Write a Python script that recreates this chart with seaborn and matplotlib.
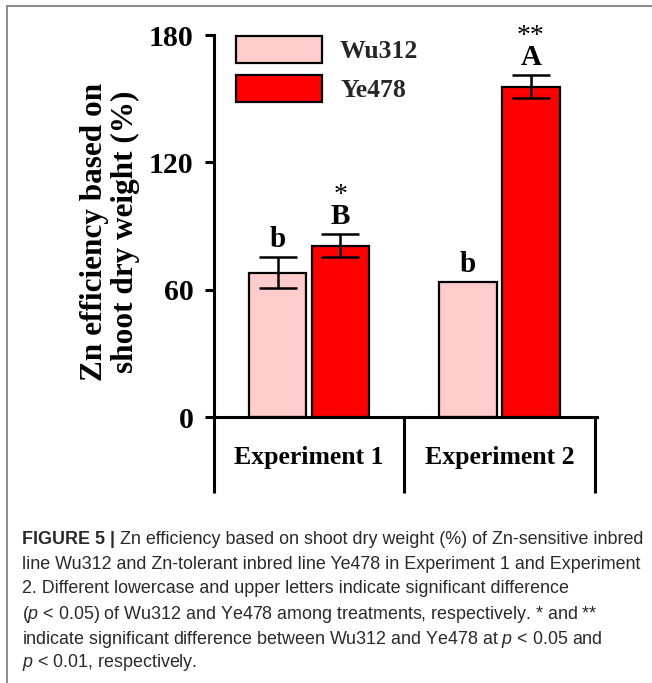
import matplotlib
matplotlib.use("Agg")
import matplotlib.pyplot as plt
import seaborn as sns
import pandas as pd
from matplotlib.patches import Patch
from matplotlib.lines import Line2D

# ---------------- data ----------------
experiments = ["Experiment 1", "Experiment 2"]
lines = ["Wu312", "Ye478"]
wu312_values = [68.0, 63.5]
ye478_values = [80.7, 155.6]
wu312_err = [7.3, 0.0]
ye478_err = [5.5, 5.5]
wu312_letters = ["b", "b"]
ye478_letters = ["B", "A"]
ye478_stars = ["*", "**"]
yticks = [0, 60, 120, 180]
colors = ["#FFCCCC", "#FF0000"]
ylabel = "Zn efficiency based on\nshoot dry weight (%)"

W, H = 652, 683
sns.set_theme(style="white")
plt.rcParams["font.family"] = ["Liberation Serif", "DejaVu Serif"]
plt.rcParams["mathtext.fontset"] = "custom"
plt.rcParams["mathtext.rm"] = "Liberation Sans"
plt.rcParams["mathtext.it"] = "Liberation Sans:italic"
plt.rcParams["mathtext.bf"] = "Liberation Sans:bold"

fig = plt.figure(figsize=(W / 100, H / 100), dpi=100)
fig.patch.set_facecolor("white")

def px(x, y):
    return (x / W, 1 - y / H)

ax_left, ax_right, ax_top, ax_bot = 213.75, 597, 35, 417
ax = fig.add_axes([ax_left / W, 1 - ax_bot / H, (ax_right - ax_left) / W, (ax_bot - ax_top) / H])
ax.set_facecolor("white")

df = pd.DataFrame({
    "Experiment": experiments * 2,
    "Line": [lines[0]] * len(experiments) + [lines[1]] * len(experiments),
    "Value": wu312_values + ye478_values,
})
sns.barplot(data=df, x="Experiment", y="Value", hue="Line", order=experiments,
            hue_order=lines, palette=colors, saturation=1, width=0.66, gap=0.08,
            edgecolor="black", linewidth=1.6, errorbar=None, legend=False, ax=ax)

ax.set_xlim(-0.5, 1.512)
ax.set_ylim(0, 180)
ax.set_yticks(yticks)
ax.set_yticklabels([str(v) for v in yticks])
ax.set_xlabel("")
ax.set_ylabel("")

for s in ["top", "right"]:
    ax.spines[s].set_visible(False)
for s in ["left", "bottom"]:
    ax.spines[s].set_linewidth(2.2)
    ax.spines[s].set_color("black")

ax.tick_params(axis="y", direction="out", length=6.5, width=2.2, pad=8,
               labelsize=21.5, colors="black", left=True)
ax.tick_params(axis="x", length=0, pad=21, labelsize=18.5, colors="black")
for lab in ax.get_yticklabels() + ax.get_xticklabels():
    lab.set_fontweight("bold")

# separators of the category box
xt = ax.get_xaxis_transform()
for xb in [-0.5, 0.5, 1.5]:
    ax.plot([xb, xb], [0, -0.199], transform=xt, color="black", lw=2.2,
            clip_on=False, solid_capstyle="butt")

# error bars & letters
bars = sorted(ax.patches, key=lambda p: p.get_x())
vals = [wu312_values[0], ye478_values[0], wu312_values[1], ye478_values[1]]
errs = [wu312_err[0], ye478_err[0], wu312_err[1], ye478_err[1]]
letters = [wu312_letters[0], ye478_letters[0], wu312_letters[1], ye478_letters[1]]
stars = ["", ye478_stars[0], "", ye478_stars[1]]
for b, v, e, l, st in zip(bars, vals, errs, letters, stars):
    xc = b.get_x() + b.get_width() / 2
    if e > 0:
        ax.errorbar([xc], [v], yerr=[e], fmt="none", ecolor="black",
                    elinewidth=1.8, capsize=14, capthick=1.8, zorder=5, clip_on=False)
    base = v + e + 4.8
    ax.text(xc, base, l, ha="center", va="baseline", fontsize=21,
            fontweight="bold", color="black", clip_on=False)
    if st:
        ax.text(xc, base + 10.3, st, ha="center", va="baseline", fontsize=20,
                color="black", clip_on=False)

# legend
handles = [Patch(facecolor=c, edgecolor="black", linewidth=1.6) for c in colors]
leg = ax.legend(handles, lines, loc="upper left", bbox_to_anchor=px(236, 36),
                bbox_transform=fig.transFigure, frameon=False, borderpad=0,
                borderaxespad=0, handlelength=3.35, handleheight=1.25,
                labelspacing=0.45, handletextpad=0.7,
                prop={"family": "Liberation Serif", "weight": "bold", "size": 18.5})

# y label
fig.text(110 / W, 1 - 232 / H, ylabel, rotation=90, ha="center", va="center",
         fontsize=22.5, fontweight="bold", multialignment="center",
         linespacing=1.05, color="black")

# frame lines
fig.add_artist(Line2D([7 / W, 1], [1 - 6 / H, 1 - 6 / H], transform=fig.transFigure,
                      color="#777777", lw=1.2))
fig.add_artist(Line2D([7 / W, 7 / W], [0, 1 - 6 / H], transform=fig.transFigure,
                      color="#777777", lw=1.2))

# caption
cap_kw = dict(fontsize=12.9, family="Liberation Sans", color="#2a2a2a")
x0 = 22
t1 = fig.text(x0 / W, 1 - 544 / H, "FIGURE 5 |", fontweight="bold", va="baseline", **cap_kw)
ax.annotate(" Zn efficiency based on shoot dry weight (%) of Zn-sensitive inbred",
            xy=(1, 0), xycoords=t1, va="bottom", ha="left", annotation_clip=False, **cap_kw)
cap_lines = [
    "line Wu312 and Zn-tolerant inbred line Ye478 in Experiment 1 and Experiment",
    "2. Different lowercase and upper letters indicate significant difference",
    r"($\mathit{p}$ < 0.05) of Wu312 and Ye478 among treatments, respectively. * and **",
    r"indicate significant difference between Wu312 and Ye478 at $\mathit{p}$ < 0.05 and",
    r"$\mathit{p}$ < 0.01, respectively.",
]
baselines = [569, 593, 619, 644, 667]
for txt, yb in zip(cap_lines, baselines):
    fig.text(x0 / W, 1 - yb / H, txt, va="baseline", **cap_kw)

fig.savefig("out.png", dpi=100, facecolor="white")
